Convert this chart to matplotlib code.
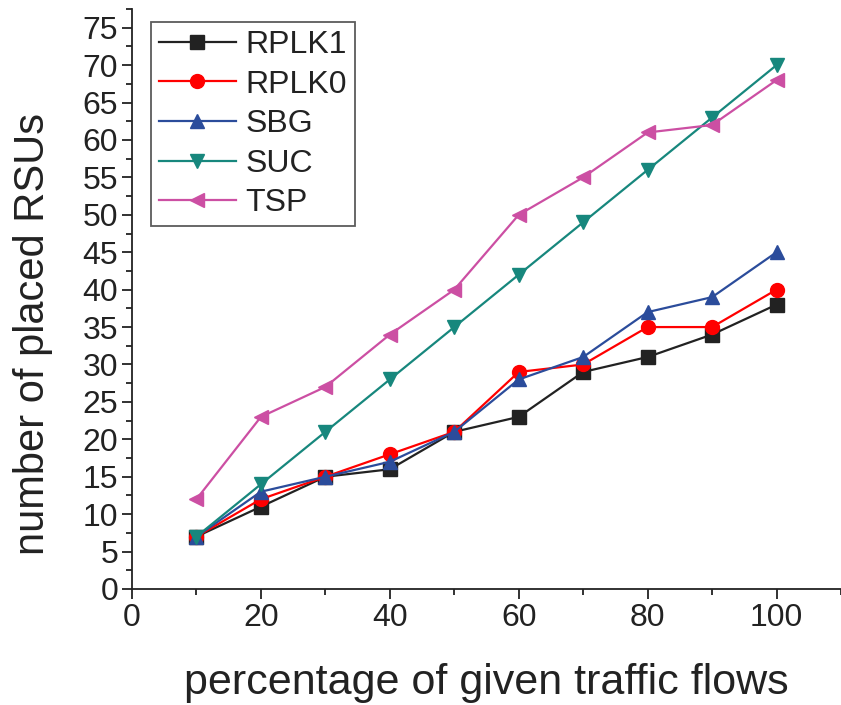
import matplotlib
matplotlib.use("Agg")
import matplotlib.pyplot as plt
import matplotlib.ticker

flows = [10, 20, 30, 40, 50, 60, 70, 80, 90, 100]
rplk1 = [7, 11, 15, 16, 21, 23, 29, 31, 34, 38]
rplk0 = [7, 12, 15, 18, 21, 29, 30, 35, 35, 40]
sbg = [7, 13, 15, 17, 21, 28, 31, 37, 39, 45]
suc = [7, 14, 21, 28, 35, 42, 49, 56, 63, 70]
tsp = [12, 23, 27, 34, 40, 50, 55, 61, 62, 68]

series = [
    ("RPLK1", rplk1, "#222222", "s"),
    ("RPLK0", rplk0, "#ff0000", "o"),
    ("SBG", sbg, "#2b4c9b", "^"),
    ("SUC", suc, "#17877d", "v"),
    ("TSP", tsp, "#cc4fa3", "<"),
]

plt.rcParams["font.family"] = ["Liberation Sans", "DejaVu Sans"]

fig = plt.figure(figsize=(8.41, 7.05), dpi=100)
ax = fig.add_axes([132 / 841, 1 - 589 / 705, 1 - 132 / 841, 580 / 705])

for name, vals, color, marker in series:
    ax.plot(flows, vals, color=color, marker=marker, markersize=10,
            linewidth=1.6, label=name)

ax.set_xlim(0, 110)
ax.set_ylim(0, 77.5)
ax.xaxis.set_major_locator(matplotlib.ticker.MultipleLocator(20))
ax.xaxis.set_minor_locator(matplotlib.ticker.MultipleLocator(10))
ax.yaxis.set_major_locator(matplotlib.ticker.MultipleLocator(5))
ax.yaxis.set_minor_locator(matplotlib.ticker.MultipleLocator(2.5))
ax.spines["top"].set_visible(False)
ax.spines["right"].set_visible(False)
for s in ("left", "bottom"):
    ax.spines[s].set_linewidth(1.3)
    ax.spines[s].set_color("#222222")

ax.tick_params(which="major", direction="out", length=7, width=1.3,
               labelsize=23, pad=3, colors="#222222")
ax.tick_params(which="minor", direction="out", length=4, width=1.3,
               colors="#222222")
for lab in ax.get_xticklabels() + ax.get_yticklabels():
    lab.set_family(["Liberation Sans Narrow", "Liberation Sans"])
    lab.set_color("#222222")

ax.set_xlabel("percentage of given traffic flows", fontsize=31,
              labelpad=22, color="#222222")
ax.set_ylabel("number of placed RSUs", fontsize=30, color="#222222")
ax.yaxis.set_label_coords(-0.112, 0.44)

leg = ax.legend(loc="upper left", bbox_to_anchor=(151 / 841, 1 - 22 / 705),
                bbox_transform=fig.transFigure, fontsize=23,
                frameon=True, fancybox=False, edgecolor="#333333",
                handlelength=2.4, handletextpad=0.3, labelspacing=0.3,
                borderpad=0.25, borderaxespad=0, markerscale=1.0)
leg.get_frame().set_linewidth(1.3)
for t in leg.get_texts():
    t.set_color("#222222")

fig.savefig("out.png", dpi=100)
